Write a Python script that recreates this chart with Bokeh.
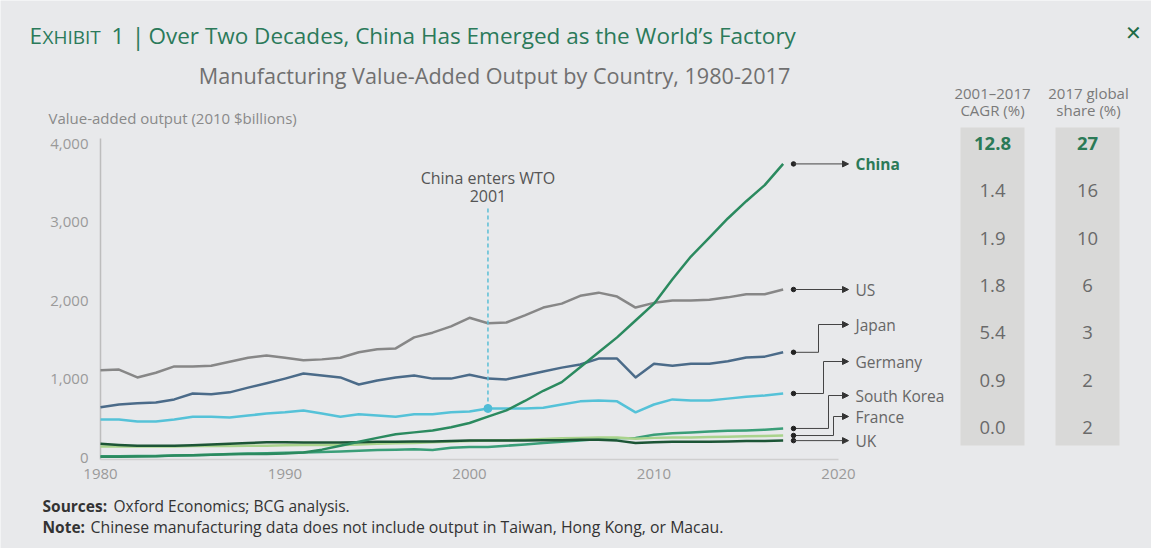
from bokeh.plotting import figure
from bokeh.models import Range1d, FixedTicker, NumeralTickFormatter, Label, Arrow, NormalHead
from bokeh.core.properties import value
from bokeh.embed import file_html
from bokeh.resources import INLINE

# ---------------- data ----------------
years = list(range(1980, 2018))
china = [10, 10, 12, 15, 25, 30, 35, 40, 45, 45,
         50, 65, 100, 150, 200, 250, 295, 320, 345, 385,
         440, 520, 600, 720, 850, 960, 1150, 1340, 1530, 1745,
         1960, 2270, 2560, 2800, 3045, 3265, 3470, 3740]
us = [1110, 1120, 1020, 1080, 1160, 1160, 1170, 1220, 1270, 1300,
      1270, 1240, 1250, 1270, 1340, 1380, 1390, 1530, 1590, 1670,
      1780, 1710, 1720, 1810, 1910, 1960, 2060, 2100, 2050, 1910,
      1970, 2000, 2000, 2010, 2040, 2080, 2080, 2140]
japan = [640, 675, 690, 700, 740, 815, 805, 830, 890, 945,
         1005, 1070, 1045, 1020, 930, 980, 1020, 1045, 1005, 1005,
         1055, 1005, 995, 1045, 1095, 1145, 1185, 1260, 1260, 1020,
         1195, 1170, 1195, 1195, 1225, 1275, 1285, 1340]
germany = [485, 485, 460, 460, 485, 520, 520, 510, 535, 560,
           575, 600, 560, 520, 550, 535, 520, 550, 550, 575,
           585, 625, 625, 625, 635, 675, 715, 725, 715, 575,
           675, 740, 725, 725, 750, 775, 790, 815]
south_korea = [15, 15, 18, 20, 25, 28, 35, 45, 50, 55,
               60, 65, 70, 75, 85, 95, 100, 105, 95, 125,
               135, 135, 150, 165, 185, 200, 215, 235, 245, 250,
               290, 310, 320, 330, 340, 345, 355, 370]
france = [140, 140, 140, 140, 140, 145, 145, 145, 150, 150,
          155, 160, 160, 160, 165, 175, 180, 185, 195, 205,
          210, 215, 220, 225, 235, 245, 250, 255, 255, 240,
          250, 255, 255, 260, 265, 270, 275, 280]
uk = [175, 160, 150, 150, 150, 155, 165, 175, 185, 195,
      195, 190, 190, 190, 195, 200, 200, 205, 205, 210,
      215, 215, 215, 215, 220, 220, 225, 225, 215, 185,
      195, 200, 200, 200, 205, 210, 210, 215]

countries = ["China", "US", "Japan", "Germany", "South Korea", "France", "UK"]
cagr = ["12.8", "1.4", "1.9", "1.8", "5.4", "0.9", "0.0"]
share = ["27", "16", "10", "6", "3", "2", "2"]
y_ticks = [0, 1000, 2000, 3000, 4000]
x_ticks = [1980, 1990, 2000, 2010, 2020]
wto_year = 2001

# ---------------- layout (pixels) ----------------
W, H = 1151, 548
PX_YR = 18.45      # pixels per year
PX_V = 0.0785      # pixels per $bn
AX_X = 100         # pixel column of the y axis (1980)
Y0 = 457           # pixel row of value 0
BASE = 459         # pixel row of the x axis line
FONT = "Open Sans"
BG = "#e8e9eb"

def X(px):
    return x_ticks[0] + (px - AX_X) / PX_YR

def Y(py):
    return (Y0 - py) / PX_V

p = figure(width=W, height=H, output_backend="svg", toolbar_location=None,
           x_range=Range1d(X(0), X(W)), y_range=Range1d(Y(H), Y(0)),
           min_border=0, min_border_left=0, min_border_right=0,
           min_border_top=0, min_border_bottom=0)
p.background_fill_color = BG
p.border_fill_color = BG
p.outline_line_color = None
p.xgrid.visible = False
p.ygrid.visible = False

p.yaxis.fixed_location = x_ticks[0]
p.xaxis.fixed_location = Y(BASE)
for ax in (p.xaxis[0], p.yaxis[0]):
    ax.axis_line_color = None
    ax.major_tick_line_color = None
    ax.minor_tick_line_color = None
    ax.major_tick_out = 0
    ax.major_tick_in = 0
    ax.major_label_text_font = FONT
    ax.major_label_text_font_size = "15px"
    ax.major_label_text_color = "#9a9a9a"
p.xaxis.ticker = FixedTicker(ticks=x_ticks)
p.yaxis.ticker = FixedTicker(ticks=y_ticks)
p.yaxis.formatter = NumeralTickFormatter(format="0,0")
p.xaxis.major_label_standoff = 9
p.yaxis.major_label_standoff = 12

# axis lines
p.segment(x0=[x_ticks[0]], y0=[Y(BASE)], x1=[x_ticks[0]], y1=[Y(138)],
          line_color="#bdbdbd", line_width=1.5)
p.segment(x0=[x_ticks[0]], y0=[Y(BASE)], x1=[x_ticks[-1]], y1=[Y(BASE)],
          line_color="#cfcfcf", line_width=1.5)

# table boxes
p.quad(left=[X(960), X(1055)], right=[X(1024), X(1119)],
       top=[Y(127)] * 2, bottom=[Y(445)] * 2, fill_color="#d9d9d8", line_color=None)

# series lines
series = {
    "South Korea": (south_korea, "#3a9e78"),
    "France": (france, "#a9d38c"),
    "UK": (uk, "#1c5536"),
    "Germany": (germany, "#55c2d8"),
    "Japan": (japan, "#4b6b89"),
    "US": (us, "#878787"),
    "China": (china, "#2b8a5f"),
}
for name, (vals, col) in series.items():
    p.line(years, vals, line_width=2.5, line_color=col, line_join="round")

# WTO annotation
gi = years.index(wto_year)
p.segment(x0=[wto_year], y0=[germany[gi]], x1=[wto_year], y1=[Y(205)],
          line_color="#5bbfd6", line_width=1.5, line_dash="4 3")
p.scatter([wto_year], [germany[gi]], size=8, color="#4fbcd6")
p.text(x=[wto_year, wto_year], y=[Y(177), Y(195)], text=["China enters WTO", "2001"],
       text_font=value(FONT), text_font_size="16px", text_color="#555555",
       text_align="center", text_baseline="middle")

# end labels with connectors
label_px = {"China": 163, "US": 289, "Japan": 324, "Germany": 361,
            "South Korea": 395, "France": 416, "UK": 440}
elbow_px = {"Japan": 818, "Germany": 823, "South Korea": 828, "France": 833}
DOT_PX, ARROW_PX, TEXT_PX = 793, 848, 855
dot_x, dot_y, lab_y = [], [], []
for c in countries:
    vals = series[c][0]
    ye = vals[-1]
    if c in elbow_px:
        ly = Y(label_px[c])
        ex = X(elbow_px[c])
        p.line([X(DOT_PX), ex, ex], [ye, ye, ly], line_color="#444444", line_width=1)
        x_start = ex
    else:
        ly = ye
        x_start = X(DOT_PX)
    p.add_layout(Arrow(end=NormalHead(size=6, fill_color="#333333", line_color="#333333"),
                       x_start=x_start, y_start=ly, x_end=X(ARROW_PX), y_end=ly,
                       line_color="#444444", line_width=1))
    dot_x.append(X(DOT_PX))
    dot_y.append(ye)
    lab_y.append(ly)
p.scatter(dot_x, dot_y, size=4.5, color="#222222")
p.text(x=[X(TEXT_PX)], y=[lab_y[0]], text=[countries[0]], text_font=value(FONT),
       text_font_size="15.5px", text_font_style="bold", text_color="#2b7a57",
       text_baseline="middle")
p.text(x=[X(TEXT_PX)] * 6, y=lab_y[1:], text=countries[1:], text_font=value(FONT),
       text_font_size="15.5px", text_color="#666666", text_baseline="middle")

# table values
row_y = [Y(143 + i * 47.33) for i in range(len(countries))]
p.text(x=[X(992), X(1087)], y=[row_y[0]] * 2, text=[cagr[0], share[0]],
       text_font=value(FONT), text_font_size="18.5px", text_font_style="bold",
       text_color="#2b7a57", text_align="center", text_baseline="middle")
p.text(x=[X(992)] * 6 + [X(1087)] * 6, y=row_y[1:] * 2, text=cagr[1:] + share[1:],
       text_font=value(FONT), text_font_size="18.5px", text_color="#6a6a6a",
       text_align="center", text_baseline="middle")

# screen-positioned texts (frame == whole canvas)
def lab(px, py, text, size, color, bold=False, align="left", font=FONT):
    p.add_layout(Label(x=px, y=H - py, x_units="screen", y_units="screen", text=text,
                       text_font=font, text_font_size=f"{size}px", text_color=color,
                       text_font_style="bold" if bold else "normal",
                       text_align=align, text_baseline="middle"))

TG = "#2b7a5a"
lab(29, 35, "E", 22.5, TG)
lab(42, 36, "XHIBIT", 19, TG)
lab(111, 35, "1", 22.5, TG)
lab(131, 35, "|", 24, TG)
lab(148, 35, "Over Two Decades, China Has Emerged as the World\u2019s Factory", 22.5, TG)
lab(1133, 32, "\u2715", 20, "#1e6b47", align="center", font="DejaVu Sans")
lab(494, 75, "Manufacturing Value-Added Output by Country, 1980-2017", 21.6, "#707070", align="center")
lab(48, 117, "Value-added output (2010 $billions)", 15, "#8a8a8a")
lab(992, 92, "2001\u20132017", 15, "#7a7a7a", align="center")
lab(992, 109, "CAGR (%)", 15, "#7a7a7a", align="center")
lab(1088, 92, "2017 global", 15, "#7a7a7a", align="center")
lab(1088, 109, "share (%)", 15, "#7a7a7a", align="center")
lab(42, 505, "Sources:", 15.5, "#333333", bold=True)
lab(113, 505, "Oxford Economics; BCG analysis.", 15.5, "#333333")
lab(42, 526, "Note:", 15.5, "#333333", bold=True)
lab(90, 526, "Chinese manufacturing data does not include output in Taiwan, Hong Kong, or Macau.",
    15.8, "#333333")

open("out.html", "w").write(file_html(p, INLINE))
